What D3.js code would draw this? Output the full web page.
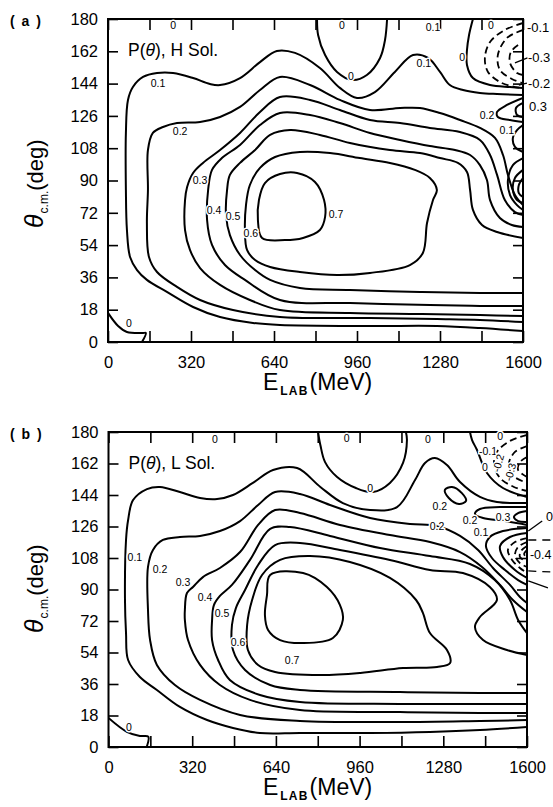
<!DOCTYPE html>
<html><head><meta charset="utf-8">
<script src="https://cdn.jsdelivr.net/npm/d3@7"></script>
<style>body{margin:0;background:#fff}svg{display:block}</style>
</head><body>
<script>
// ---------- axis data ----------
const E_TICKS = [0,160,320,480,640,800,960,1120,1280,1440,1600];
const E_LABELS = [0,320,640,960,1280,1600];
const TH_TICKS = [0,18,36,54,72,90,108,126,144,162,180];

// ---------- panel (a): H solution, contour lines [E_LAB (MeV), theta (deg)] ----------
const A_ZERO_LOW = [[0,16.2],[39,8.9],[73,5.6],[135,5],[146,5],[131,0]];
const A_P01 = [[1600,6.1],[1434,7.8],[1268,8.9],[1010,8.9],[663,9.5],[559,10.6],[432,13.9],[328,19.5],[227,27.9],[150,34.6],[112,40.1],[85,47.4],[73,62.4],[69,84.7],[69,116.5],[77,134.9],[96,142.1],[135,147.7],[189,149.9],[251,149.9],[328,147.1],[393,143.8],[432,143.2],[509,147.1],[586,156],[651,162.2],[721,161.1],[817,152.7],[894,141.6],[960,136],[1029,139.3],[1106,150.5],[1176,159.9],[1234,158.3],[1280,150.5],[1318,143.2],[1369,140.4],[1434,138.8],[1500,138.2],[1600,137.7]];
const A_P02 = [[1600,11.1],[1434,12.3],[1268,12.8],[1010,13.4],[663,13.9],[482,17.8],[355,23.4],[266,30.7],[189,39],[158,47.4],[150,66.3],[154,84.7],[154,107],[173,116.5],[212,119.8],[266,122],[355,122.6],[432,125.4],[509,131],[586,140.4],[663,147.7],[779,143.2],[894,134.9],[1010,129.3],[1126,130.4],[1203,130.4],[1280,127.6],[1357,123.7],[1434,119.3],[1492,113.7],[1523,104.2],[1542,93.1],[1569,81.9],[1600,76.3]];
const A_P03 = [[1600,14.5],[1434,15],[1203,15.6],[933,16.2],[663,17.8],[547,23.4],[432,31.8],[355,41.2],[316,51.3],[297,62.4],[297,79.1],[305,86.4],[328,94.2],[366,99.8],[432,107],[509,116.5],[586,128.2],[663,136.5],[779,134.9],[894,129.3],[1010,123.7],[1126,122],[1241,119.3],[1357,117],[1434,112.6],[1473,104.2],[1500,93.1],[1530,79.1],[1569,72.4],[1600,70.8]];
const A_P04 = [[1600,20.1],[1434,20.1],[1241,20.6],[933,21.7],[663,23.4],[528,34.6],[451,42.9],[401,54.1],[382,68],[386,84.7],[401,95.9],[439,102.5],[509,109.8],[586,120.9],[663,127.6],[779,126.5],[894,122],[1010,116.5],[1126,112.6],[1241,109.2],[1338,107],[1396,104.2],[1434,98.6],[1461,90.3],[1473,79.1],[1511,69.1],[1557,65.2],[1600,64.1]];
const A_P05 = [[1600,27.3],[1434,27.3],[1203,27.9],[933,29],[740,30.1],[625,34.6],[567,40.1],[509,48.5],[470,59.6],[455,70.8],[459,84.7],[470,93.1],[509,99.8],[567,107],[625,115.4],[702,118.1],[817,115.4],[933,110.9],[1087,107],[1203,105.3],[1280,102.5],[1349,99.8],[1384,94.7],[1396,84.7],[1407,73.6],[1442,65.2],[1500,61.3],[1600,58]];
const A_P06 = [[536,51.3],[528,62.4],[532,76.3],[547,87.5],[586,97],[644,103.1],[740,105.9],[856,105.3],[971,102.5],[1087,99.8],[1183,95.9],[1241,91.4],[1268,84.7],[1253,79.1],[1230,66.3],[1214,49.6],[1164,42.9],[1010,38.5],[883,37.3],[740,39],[625,41.8],[567,45.7]];
const A_P07 = [[594,58],[578,68],[582,79.1],[605,88.6],[663,93.6],[729,94.2],[798,89.2],[833,79.1],[837,69.7],[817,62.4],[752,58],[682,56.8]];
const A_ZERO_U = [[806,180],[810,171.1],[837,159.9],[883,150.5],[941,146],[998,148.8],[1049,158.3],[1068,168.3],[1076,180]];
const A_ZERO_R = [[1407,180],[1392,171.1],[1384,162.7],[1384,154.4],[1407,147.1],[1473,143.2],[1550,142.1],[1600,141.6]];
const A_LOBE_02 = [[1600,136],[1538,132.1],[1500,128.2],[1503,125.4],[1550,123.7],[1600,122.6]];
const A_LOBE_03 = [[1600,133.2],[1573,130.4],[1577,126.5],[1600,125.4]];
const A_LOBE_01 = [[1600,120.9],[1577,118.1],[1561,113.7],[1569,108.7],[1600,105.9]];
const A_LOOP_1 = [[1600,102.5],[1561,98.6],[1542,90.3],[1550,81.9],[1577,76.3],[1600,73.6]];
const A_LOOP_2 = [[1600,95.9],[1569,91.4],[1561,84.7],[1577,79.1],[1600,77.5]];
const A_LOOP_3 = [[1600,91.4],[1584,87.5],[1584,83],[1600,80.8]];
const A_NEG_1 = [[1600,177.8],[1530,173.9],[1473,167.2],[1453,158.3],[1465,150.5],[1511,144.9],[1569,142.1],[1600,141.6]];
const A_NEG_2 = [[1600,173.9],[1538,169.4],[1503,159.9],[1511,151.6],[1557,146.6],[1600,144.3]];
const A_NEG_3 = [[1581,165.5],[1553,161.6],[1550,155.5],[1577,149.9],[1600,148.8]];
const A_LABELS = [
  ["0.1",193,144.3],["0.2",278,117.6],["0.3",355,90.3],["0.4",409,73.6],["0.5",482,70.2],["0.6",551,60.7],["0.7",879,71.3],
  ["0",937,148.2],["0",251,176.7],["0",902,176.7],["0.1",1253,175.5],["0",1476,176.7],["0",1365,158.8],["0.1",1218,155.5],
  ["0.2",1461,126.5],["0.1",1538,118.1],["0",81,10.6]];
const A_OUT_LABELS = [["-0.1",1615,175.5],["-0.3",1619,158.3],["-0.2",1619,144.3],["0.3",1623,131.5]];
const A_LEADERS = [[[1569,155.5],[1617,158.3]],[[1584,143.2],[1615,144.3]]];

// ---------- panel (b): L solution ----------
const B_ZERO_LOW = [[0,16.6],[70,8.7],[120,6.3],[152,5.9],[146,0]];
const B_P01 = [[1600,11.4],[1420,9.7],[1229,8.6],[1000,8],[732,8],[579,8],[476,10.9],[377,15.4],[273,22.9],[185,32.6],[120,40],[75,49.7],[67,65.1],[63,84],[67,118.3],[75,129.7],[94,141.1],[147,147.4],[197,148.6],[273,145.7],[350,142.3],[415,141.7],[476,144],[552,150.9],[629,158.3],[721,159.4],[810,148.6],[896,139.4],[1000,135.4],[1103,137.1],[1172,152.6],[1210,162.3],[1248,165.1],[1294,161.1],[1344,151.4],[1420,142.9],[1485,140],[1600,139.4]];
const B_P02 = [[1600,15.4],[1420,14.9],[1114,14.3],[732,14.9],[503,18.3],[350,26.9],[254,35.4],[185,46.9],[159,61.1],[151,78.3],[151,102.9],[170,112.6],[208,118.3],[273,120],[350,120.6],[426,123.4],[503,129.1],[572,138.3],[637,145.7],[732,144.6],[847,138.3],[1000,130.9],[1153,127.4],[1256,126.3],[1344,120.6],[1413,112.6],[1470,102.3],[1535,92.6],[1573,85.7],[1600,82.3]];
const B_P03 = [[1600,19.4],[1420,19.4],[1114,20],[732,21.1],[541,26.9],[426,35.4],[350,46.9],[304,61.1],[292,72.6],[292,78.3],[300,88],[323,91.4],[361,97.1],[426,102.3],[503,111.4],[572,126.9],[637,135.4],[732,133.7],[885,126.9],[1076,121.1],[1229,117.1],[1344,111.4],[1428,102.9],[1497,92.6],[1546,84],[1600,77.1]];
const B_P04 = [[1600,24.6],[1420,24.6],[1114,24.6],[732,25.7],[579,29.7],[464,38.3],[419,49.7],[396,61.1],[396,72.6],[403,81.1],[426,86.3],[472,92.6],[541,106.9],[618,124.6],[694,125.7],[847,120.6],[1038,113.7],[1229,109.1],[1382,104.6],[1477,95.4],[1535,84],[1566,72.6],[1600,65.1]];
const B_P05 = [[1600,30.9],[1420,30.9],[1114,31.4],[732,32.6],[618,35.4],[522,44],[476,55.4],[472,69.7],[487,79.4],[522,89.7],[572,104],[637,115.4],[732,116.6],[885,112.6],[1076,106.9],[1229,101.1],[1355,99.4],[1458,91.4],[1485,84],[1420,74.3],[1401,68.6],[1432,61.1],[1523,55.4],[1600,52.6]];
const B_P06 = [[533,55.4],[530,69.7],[549,84],[587,98.3],[656,106.9],[770,109.1],[923,105.7],[1076,96.6],[1176,84],[1202,76.6],[1229,65.1],[1294,55.4],[1306,48],[1256,45.7],[1126,45.1],[963,42.3],[810,41.1],[637,42.9],[572,46.9]];
const B_P07 = [[618,98.3],[744,99.4],[835,91.4],[885,81.1],[896,72.6],[858,62.3],[744,59.4],[656,61.1],[610,66.9],[598,75.4],[606,86.9]];
const B_ZERO_U = [[801,180],[810,172.6],[828,162.8],[874,154.3],[946,148],[1011,145.7],[1076,150.9],[1126,162.3],[1141,175.4],[1137,180]];
const B_ZERO_R = [[1382,180],[1390,175.4],[1409,169.7],[1447,156.6],[1508,148],[1600,142.9]];
const B_NEG_TOP_1 = [[1600,178.3],[1535,174.9],[1485,168.6],[1474,161.1],[1497,153.7],[1550,148.6],[1600,146.3]];
const B_NEG_TOP_2 = [[1600,172],[1554,168.6],[1531,162.3],[1543,155.4],[1600,150.9]];
const B_NEG_TOP_3 = [[1600,165.7],[1573,162.8],[1566,158.3],[1600,154.3]];
const B_ISLAND_02 = [[1286,146.9],[1313,148.6],[1351,145.1],[1367,140.6],[1340,138.9],[1301,142.3]];
const B_LOBE_02 = [[1600,137.1],[1497,137.1],[1420,136],[1401,133.1],[1432,130.9],[1516,129.1],[1600,126.9]];
const B_LOBE_03 = [[1600,134.9],[1566,133.7],[1550,131.4],[1566,129.1],[1600,128.6]];
const B_LOBE_01 = [[1600,125.1],[1508,123.4],[1458,120],[1443,114.9],[1466,108],[1516,101.1],[1566,95.4],[1600,92.6]];
const B_LOBE_00 = [[1600,122.3],[1535,120],[1497,114.9],[1508,108.6],[1554,101.1],[1600,96.6]];
const B_NEG_1 = [[1600,119.4],[1554,117.1],[1527,112.6],[1543,106.9],[1573,102.3],[1600,99.4]];
const B_NEG_2 = [[1600,117.1],[1566,114.3],[1554,109.7],[1573,105.1],[1600,102.9]];
const B_NEG_3 = [[1600,114.9],[1577,112],[1573,108.6],[1600,105.7]];
const B_NEG_4 = [[1600,112.6],[1589,110.3],[1600,108]];
const B_LABELS = [
  ["0.1",101,108.6],["0.2",197,101.7],["0.3",285,94.3],["0.4",369,85.7],["0.5",434,76.6],["0.6",495,60],["0.7",702,49.7],
  ["0",1000,148],["0",407,176],["0",911,176.6],["0",1221,176],["0",1497,177.9],["-0.1",1451,169.1],["0",1439,160],
  ["0.2",1267,137.7],["0.3",1508,131.4],["0.2",1382,129.7],["0.1",1424,122.9],["0.2",1256,126.3],["0",78,11.4]];
const B_ROT_LABELS = [["-0.2",1489,162.3],["-0.3",1535,157.1]];
const B_OUT_LABELS = [["0",1673,131.4],["-0.4",1611,109.7]];
const B_LEADERS = [[[1605,123.4],[1658,129.1]],[[1605,94.9],[1680,90.9]]];
const B_OUT_DASH = [[[1605,118.3],[1699,118.3]],[[1605,100.6],[1699,100]]];

// ---------- drawing ----------
const svg = d3.select("body").append("svg").attr("width",553).attr("height",807)
  .style("font-family","'Liberation Sans', Arial, Helvetica, sans-serif");

const PANELS = [
  {tag:"( a )", sol:"H", x0:108, x1:523, y0:342, y1:19,
   lines:[A_ZERO_LOW,A_P01,A_P02,A_P03,A_P04,A_P05,A_ZERO_U,A_ZERO_R,A_LOBE_02,A_LOBE_03,A_LOBE_01,A_LOOP_1,A_LOOP_2,A_LOOP_3],
   closed:[A_P06,A_P07], dashed:[A_NEG_1,A_NEG_2,A_NEG_3],
   labels:A_LABELS, rot:[], out:A_OUT_LABELS, outSize:13, leaders:A_LEADERS, outDash:[]},
  {tag:"( b )", sol:"L", x0:108.5, x1:527, y0:747, y1:432,
   lines:[B_ZERO_LOW,B_P01,B_P02,B_P03,B_P04,B_P05,B_ZERO_U,B_ZERO_R,B_LOBE_02,B_LOBE_03,B_LOBE_01,B_LOBE_00],
   closed:[B_P06,B_P07,B_ISLAND_02], dashed:[B_NEG_TOP_1,B_NEG_TOP_2,B_NEG_TOP_3,B_NEG_1,B_NEG_2,B_NEG_3,B_NEG_4],
   labels:B_LABELS, rot:B_ROT_LABELS, out:B_OUT_LABELS, outSize:12.5, leaders:B_LEADERS, outDash:B_OUT_DASH}
];

PANELS.forEach((p,i) => {
  const x = d3.scaleLinear().domain([0,1600]).range([p.x0,p.x1]);
  const y = d3.scaleLinear().domain([0,180]).range([p.y0,p.y1]);
  const g = svg.append("g");
  const clipId = "clip"+i;
  svg.append("clipPath").attr("id",clipId).append("rect")
    .attr("x",p.x0).attr("y",p.y1).attr("width",p.x1-p.x0).attr("height",p.y0-p.y1);

  // axes (inward ticks)
  const fmtX = d => E_LABELS.includes(d) ? String(d) : "";
  const ax = [
    g.append("g").attr("transform",`translate(0,${p.y0})`).call(d3.axisBottom(x).tickValues(E_TICKS).tickSize(-11).tickPadding(14).tickFormat(fmtX)),
    g.append("g").attr("transform",`translate(0,${p.y1})`).call(d3.axisTop(x).tickValues(E_TICKS).tickSize(-11).tickFormat("")),
    g.append("g").attr("transform",`translate(${p.x0},0)`).call(d3.axisLeft(y).tickValues(TH_TICKS).tickSize(-10).tickPadding(10)),
    g.append("g").attr("transform",`translate(${p.x1},0)`).call(d3.axisRight(y).tickValues(TH_TICKS).tickSize(-10).tickFormat(""))
  ];
  ax.forEach(a => {
    a.select(".domain").remove();
    a.selectAll("line").attr("stroke","#000").attr("stroke-width",1.6);
    a.selectAll("text").attr("font-size",16.5).attr("fill","#000")
      .attr("font-family","'Liberation Sans', Arial, sans-serif");
  });

  g.append("rect").attr("x",p.x0).attr("y",p.y1).attr("width",p.x1-p.x0).attr("height",p.y0-p.y1)
    .attr("fill","none").attr("stroke","#000").attr("stroke-width",2);

  const cg = g.append("g").attr("clip-path",`url(#${clipId})`)
    .attr("fill","none").attr("stroke","#000").attr("stroke-width",2).attr("stroke-linejoin","round");
  const lineOpen = d3.line().x(d=>x(d[0])).y(d=>y(d[1])).curve(d3.curveCatmullRom.alpha(0.5));
  const lineClosed = d3.line().x(d=>x(d[0])).y(d=>y(d[1])).curve(d3.curveCatmullRomClosed.alpha(0.5));
  p.lines.forEach(c => cg.append("path").attr("d",lineOpen(c)));
  p.closed.forEach(c => cg.append("path").attr("d",lineClosed(c)));
  p.dashed.forEach(c => cg.append("path").attr("d",lineOpen(c)).attr("stroke-dasharray","7,4").attr("stroke-width",1.8));

  // contour labels
  const lg = g.append("g").attr("font-size",10.5).attr("text-anchor","middle")
    .attr("dominant-baseline","central");
  p.labels.forEach(l => {
    lg.append("text").attr("x",x(l[1])).attr("y",y(l[2])).text(l[0])
      .attr("stroke","#fff").attr("stroke-width",3).attr("paint-order","stroke").attr("fill","#000");
  });
  p.rot.forEach(l => {
    lg.append("text").attr("transform",`translate(${x(l[1])},${y(l[2])}) rotate(-75)`).text(l[0])
      .attr("stroke","#fff").attr("stroke-width",3).attr("paint-order","stroke").attr("fill","#000");
  });
  p.out.forEach(l => {
    g.append("text").attr("x",x(l[1])).attr("y",y(l[2])).attr("dominant-baseline","central")
      .attr("font-size",p.outSize).text(l[0]);
  });
  p.leaders.forEach(s => g.append("line").attr("x1",x(s[0][0])).attr("y1",y(s[0][1])).attr("x2",x(s[1][0])).attr("y2",y(s[1][1]))
    .attr("stroke","#000").attr("stroke-width",1.3));
  p.outDash.forEach(s => g.append("line").attr("x1",x(s[0][0])).attr("y1",y(s[0][1])).attr("x2",x(s[1][0])).attr("y2",y(s[1][1]))
    .attr("stroke","#000").attr("stroke-width",1.3).attr("stroke-dasharray","8,6"));

  // panel tag and title
  g.append("text").attr("x",10).attr("y",p.y1+7).attr("font-size",14).attr("font-weight","bold")
    .attr("letter-spacing",1.5).text(p.tag);
  const t = g.append("text").attr("x",p.x0+20).attr("y",p.y1+37).attr("font-size",17.5);
  t.append("tspan").text("P(");
  t.append("tspan").attr("font-style","italic").text("θ");
  t.append("tspan").text(p.sol==="H" ? "), H Sol." : "), L  Sol.");

  // x axis title
  const xt = g.append("text").attr("x",263).attr("y",p.y0+48);
  xt.append("tspan").attr("font-size",23).text("E");
  xt.append("tspan").attr("font-size",12).attr("font-weight","bold").attr("dy",5).attr("dx",2)
    .attr("letter-spacing",1.2).text("LAB");
  xt.append("tspan").attr("font-size",23).attr("dy",-5).attr("dx",1).text("(MeV)");

  // y axis title
  const yt = g.append("text").attr("transform",`translate(43,${p.y0-114}) rotate(-90)`);
  yt.append("tspan").attr("font-size",25).attr("font-style","italic").text("θ");
  yt.append("tspan").attr("font-size",12).attr("dy",5).attr("dx",1).text("c.m.");
  yt.append("tspan").attr("font-size",22).attr("dy",-5).text("(deg)");
});
</script>
</body></html>
